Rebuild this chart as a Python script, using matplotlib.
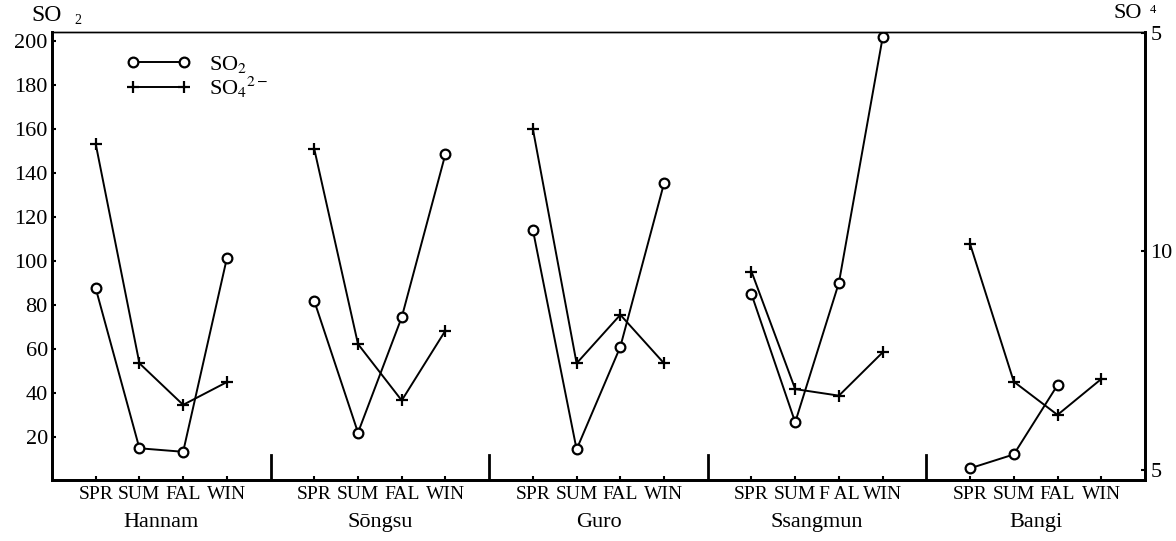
import numpy as np
import matplotlib
matplotlib.use("Agg")
import matplotlib.pyplot as plt
from matplotlib.lines import Line2D
from matplotlib import transforms

plt.rcParams['font.family'] = ['Liberation Serif', 'DejaVu Serif']
plt.rcParams['mathtext.fontset'] = 'stix'

# data
sites = ["Hannam", "Sōngsu", "Guro", "Ssangmun", "Bangi"]
seasons = ["SPR", "SUM", "FAL", "WIN"]
season_labels = [
    ["SPR", "SUM", "FAL", "WIN"],
    ["SPR", "SUM", "FAL", "WIN"],
    ["SPR", "SUM", "FAL", "WIN"],
    ["SPR", "SUM", "F AL", "WIN"],
    ["SPR", "SUM", "FAL", "WIN"],
]
so2 = [
    [87.6, 14.9, 13.3, 101.2],
    [81.8, 22.0, 74.4, 148.6],
    [114.1, 14.4, 61.0, 135.3],
    [84.9, 26.7, 90.1, 201.5],
    [5.8, 12.1, 43.6, np.nan],
]
so4 = [
    [12.46, 7.44, 6.49, 7.01],
    [12.34, 7.88, 6.59, 8.19],
    [12.80, 7.44, 8.55, 7.44],
    [9.54, 6.85, 6.70, 7.69],
    [10.17, 7.02, 6.26, 7.08],
]
left_ticks = [20, 40, 60, 80, 100, 120, 140, 160, 180, 200]
right_ticks = [5, 10, 15]
right_tick_labels = ["5", "10", "5"]

fig = plt.figure(figsize=(11.76, 5.41), dpi=100)
ax = fig.add_axes([0.0442, 0.1128, 0.9294, 0.8281])
ax2 = ax.twinx()

xs_all, xl_all = [], []
for i, site in enumerate(sites):
    x = [i * 5 + j + 1 for j in range(4)]
    ax.plot(x, so2[i], color='black', lw=1.4, marker='o', ms=7,
            mfc='white', mec='black', mew=1.6, zorder=3)
    ax2.plot(x, so4[i], color='black', lw=1.4, marker='+', ms=8,
             mew=1.6, zorder=3)
    xs_all += x
    xl_all += season_labels[i]
    if i > 0:
        ax.axvline(i * 5, ymin=0, ymax=0.055, color='black', lw=2)

ax.set_xlim(0, 25)
ax.set_ylim(0.5, 204)
ax2.set_ylim(4.771, 15.02)

ax.set_xticks(xs_all)
ax.set_xticklabels(xl_all, fontsize=14)
ax.set_yticks(left_ticks)
ax.set_yticklabels([str(t) for t in left_ticks], fontsize=16)
ax.tick_params(axis='y', direction='in', length=3, width=1.5, pad=3)
ax.tick_params(axis='x', direction='in', length=3, width=1.5, pad=4)
ax2.set_yticks(right_ticks)
ax2.set_yticklabels(right_tick_labels, fontsize=16)
ax2.tick_params(axis='y', direction='in', length=3, width=1.5, pad=4)

for a in (ax, ax2):
    a.spines['left'].set_linewidth(2)
    a.spines['bottom'].set_linewidth(2)
    a.spines['right'].set_linewidth(2)
    a.spines['top'].set_linewidth(1)

trans = transforms.blended_transform_factory(ax.transData, ax.transAxes)
for i, site in enumerate(sites):
    ax.text(i * 5 + 2.5, -0.095, site, transform=trans, ha='center',
            va='center', fontsize=16)

fig.text(0.027, 0.972, "SO", fontsize=17, ha='left', va='center')
fig.text(0.063, 0.962, "2", fontsize=10, ha='left', va='center')
fig.text(0.947, 0.975, "SO", fontsize=16, ha='left', va='center')
fig.text(0.978, 0.982, "4", fontsize=9, ha='left', va='center')

handles = [
    Line2D([0], [0], color='black', lw=1.4, marker='o', ms=7, mfc='white',
           mec='black', mew=1.6),
    Line2D([0], [0], color='black', lw=1.4, marker='+', ms=8, mew=1.6),
]
ax2.legend(handles, ["SO$_2$", "SO$_4$$^{2-}$"], numpoints=2,
           handlelength=2.9, frameon=False, loc='upper left',
           bbox_to_anchor=(0.05, 0.995), fontsize=16, labelspacing=0.0,
           handletextpad=0.8)

fig.savefig("out.png", dpi=100)
